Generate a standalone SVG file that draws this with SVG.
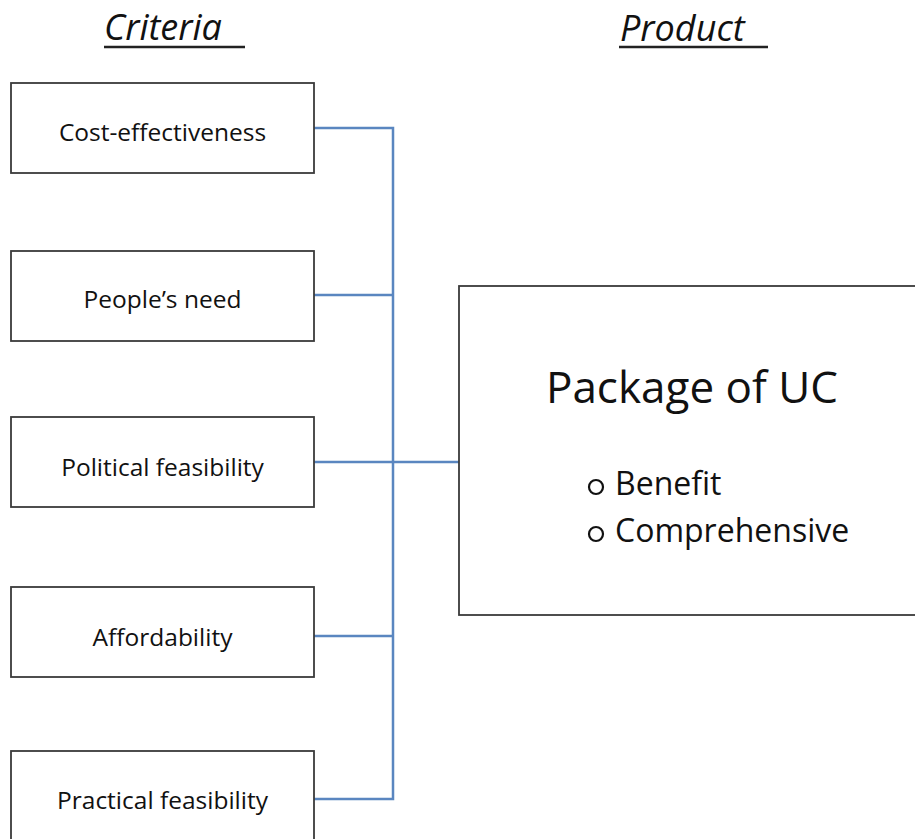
<svg xmlns="http://www.w3.org/2000/svg" width="915" height="839" viewBox="0 0 915 839">
<style>
.box{fill:#fff;stroke:#3a3a3a;stroke-width:1.8}
.lbl{font-family:"Open Sans","Liberation Sans",sans-serif;font-size:24.5px;fill:#111;text-anchor:middle}
.title{font-family:"Open Sans","Liberation Sans",sans-serif;font-style:italic;font-size:36px;fill:#111}
.ul{stroke:#222;stroke-width:2.5}
.conn{fill:none;stroke:#5a86c0;stroke-width:2.5}
.big{font-family:"Open Sans","Liberation Sans",sans-serif;fill:#111}
.bul{fill:none;stroke:#111;stroke-width:2.2}
</style>
<rect width="915" height="839" fill="#fff"/>
<g id="title-criteria">
<text class="title" x="104" y="40">Criteria</text>
<line class="ul" x1="104" y1="47" x2="245" y2="47"/>
</g>
<g id="title-product">
<text class="title" x="620" y="41">Product</text>
<line class="ul" x1="619" y1="47" x2="768" y2="47"/>
</g>
<g id="connectors">
<polyline class="conn" points="314,128 393,128 393,799 314,799"/>
<line class="conn" x1="314" y1="295" x2="393" y2="295"/>
<line class="conn" x1="314" y1="462" x2="459" y2="462"/>
<line class="conn" x1="314" y1="636" x2="393" y2="636"/>
</g>
<g id="cost">
<rect class="box" x="11" y="83" width="303" height="90"/>
<text class="lbl" x="162.5" y="141">Cost-effectiveness</text>
</g>
<g id="need">
<rect class="box" x="11" y="251" width="303" height="90"/>
<text class="lbl" x="162.5" y="308">People’s need</text>
</g>
<g id="political">
<rect class="box" x="11" y="417" width="303" height="90"/>
<text class="lbl" x="162.5" y="476">Political feasibility</text>
</g>
<g id="afford">
<rect class="box" x="11" y="587" width="303" height="90"/>
<text class="lbl" x="162.5" y="646">Affordability</text>
</g>
<g id="practical">
<rect class="box" x="11" y="751" width="303" height="95"/>
<text class="lbl" x="162.5" y="809">Practical feasibility</text>
</g>
<g id="package">
<rect class="box" x="459" y="286" width="470" height="329"/>
<text class="big" x="692" y="403" font-size="44" text-anchor="middle">Package of UC</text>
<circle class="bul" cx="596" cy="487" r="7"/>
<text class="big" x="615" y="495" font-size="32">Benefit</text>
<circle class="bul" cx="596" cy="534" r="7"/>
<text class="big" x="615" y="542" font-size="32">Comprehensive</text>
</g>
</svg>
